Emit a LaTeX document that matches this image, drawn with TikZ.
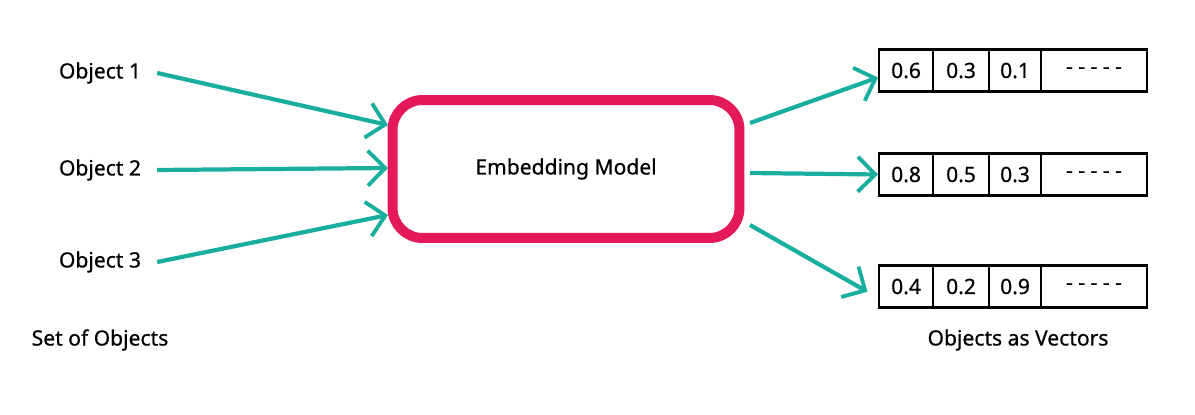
\documentclass[tikz,border=0pt]{standalone}
\usepackage{fontspec}
\setmainfont{Noto Sans}[BoldFont={Noto Sans}, BoldFeatures={FakeBold=0.6}]
\usetikzlibrary{positioning,arrows.meta}
\definecolor{teal}{HTML}{1AAE9F}
\definecolor{pink}{HTML}{E3195A}
\tikzset{
	label/.style={font=\fontsize{12}{14}\selectfont\bfseries, inner sep=0pt},
	cell/.style={draw, line width=1.2pt, minimum height=0.84cm, inner sep=0pt, font=\fontsize{12}{14}\selectfont\bfseries},
	feed/.style={-{Straight Barb[length=3.5mm,width=7mm,line width=2.2pt]}, line width=2.4pt, teal},
}
\begin{document}
\begin{tikzpicture}[x=0.02cm, y=-0.02cm]
		\useasboundingbox (0, 0) rectangle (1195, 415);
		\node[label] (o1) at (100, 73) {Object 1};
		\node[label] (o2) at (100, 170) {Object 2};
		\node[label] (o3) at (100, 262) {Object 3};
		\node[label] (setlabel) at (100, 340) {Set of Objects};
		\node[draw=pink, line width=0.2cm, rounded corners=0.6cm, minimum width=6.94cm, minimum height=2.76cm, font=\fontsize{12}{14}\selectfont\bfseries] (model) at (566, 169) {Embedding Model};
		\coordinate (in1) at (388, 125);
		\coordinate (in2) at (388, 168);
		\coordinate (in3) at (388, 215);
		\coordinate (out1) at (750, 123);
		\coordinate (out2) at (750, 173);
		\coordinate (out3) at (750, 225);
		% vectors
		\node[cell, minimum width=1.08cm, anchor=west] (v1a) at (878, 70.5) {0.6};
		\node[cell, minimum width=1.12cm, right=-1.2pt of v1a] (v1b) {0.3};
		\node[cell, minimum width=1.04cm, right=-1.2pt of v1b] (v1c) {0.1};
		\node[cell, minimum width=2.12cm, right=-1.2pt of v1c] (v1d) {- - - - -};
		\node[cell, minimum width=1.08cm, anchor=west] (v2a) at (878, 174.5) {0.8};
		\node[cell, minimum width=1.12cm, right=-1.2pt of v2a] (v2b) {0.5};
		\node[cell, minimum width=1.04cm, right=-1.2pt of v2b] (v2c) {0.3};
		\node[cell, minimum width=2.12cm, right=-1.2pt of v2c] (v2d) {- - - - -};
		\node[cell, minimum width=1.08cm, anchor=west] (v3a) at (878, 286.5) {0.4};
		\node[cell, minimum width=1.12cm, right=-1.2pt of v3a] (v3b) {0.2};
		\node[cell, minimum width=1.04cm, right=-1.2pt of v3b] (v3c) {0.9};
		\node[cell, minimum width=2.12cm, right=-1.2pt of v3c] (v3d) {- - - - -};
		\node[label] (veclabel) at (1018, 340) {Objects as Vectors};
		% arrows
		\draw[feed] (o1.east) ++(9pt, 0) coordinate (s1) (s1) -- (in1);
		\draw[feed] (o2.east) ++(9pt, 0) coordinate (s2) (s2) -- (in2);
		\draw[feed] (o3.east) ++(9pt, 0) coordinate (s3) (s3) -- (in3);
		\draw[feed] (out1) -- ([yshift=-4pt]v1a.west);
		\draw[feed] (out2) -- (v2a.west);
		\draw[feed] (out3) -- ([xshift=-6pt, yshift=-3pt]v3a.west);
		\end{tikzpicture}
\end{document}
